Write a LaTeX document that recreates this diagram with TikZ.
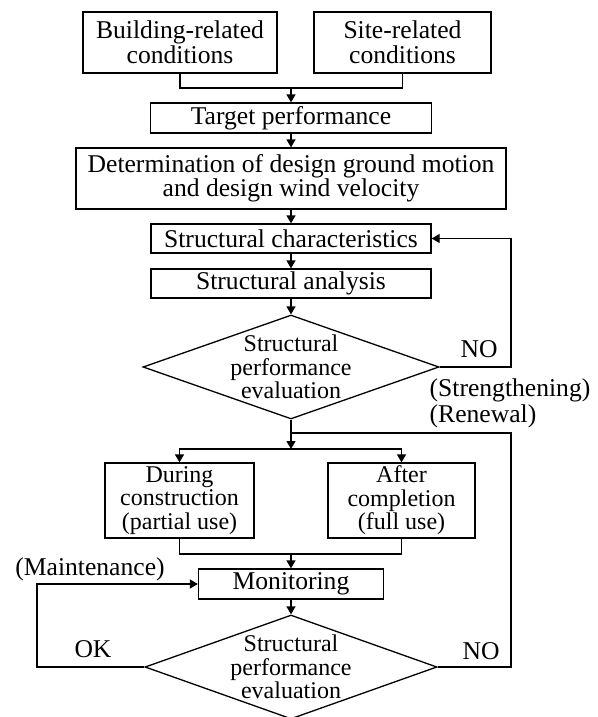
\documentclass[tikz,border=0pt]{standalone}
\usepackage{fontspec}
\setmainfont{Liberation Serif}
\usetikzlibrary{arrows.meta,shapes.geometric}
\begin{document}
\begin{tikzpicture}[x=1pt,y=-1pt,
  line width=1.3pt,
  every node/.style={font=\fontsize{25.6}{25}\selectfont, inner sep=0pt},
  box/.style={draw, rectangle, align=center},
  tight/.style={font=\fontsize{24}{23.5}\selectfont},
  dia/.style={draw, diamond, minimum width=296pt, minimum height=104pt},
  arr/.style={-{Triangle[length=8pt,width=9pt]}}]
\useasboundingbox (0,0) rectangle (597,717);

% boxes
\node[box, minimum width=194pt, minimum height=61pt] (bld) at (180,42.5) {Building-related\\conditions};
\node[box, minimum width=177pt, minimum height=61pt] (site) at (402.5,42.5) {Site-related\\conditions};
\node[box, minimum width=281pt, minimum height=30pt] (tgt) at (291,118) {Target performance};
\node[box, font=\fontsize{25.6}{23}\selectfont, minimum width=430pt, minimum height=61pt] (det) at (291,178.5) {Determination of design ground motion\\and design wind velocity};
\node[box, minimum width=280pt, minimum height=29pt] (chr) at (291,238.5) {Structural characteristics};
\node[box, minimum width=280pt, minimum height=29pt] (ana) at (291,283.5) {Structural analysis};
\node[dia] (d1) at (291,367) {};
\node[tight, align=center] (d1t) at (d1) {Structural\\performance\\evaluation};
\node[box, tight, minimum width=149pt, minimum height=75pt] (dur) at (179.5,500.5) {During\\construction\\(partial use)};
\node[box, tight, minimum width=147pt, minimum height=75pt] (aft) at (401.5,500.5) {After\\completion\\(full use)};
\node[box, minimum width=185pt, minimum height=30pt] (mon) at (291,584) {Monitoring};
\node[dia, minimum width=292pt] (d2) at (291,667) {};
\node[tight, align=center] (d2t) at (d2) {Structural\\performance\\evaluation};

% labels
\node (no1) at (479,349) {NO};
\node[anchor=base west] (stg) at (429,396) {(Strengthening)};
\node[anchor=base west] (ren) at (429,422) {(Renewal)};
\node (no2) at (481,651) {NO};
\node (ok) at (93,649) {OK};
\node (mnt) at (90,569) {(Maintenance)};

% connectors
\coordinate (m1) at (291,88);
\draw (bld.south) |- (m1) -| (site.south);
\draw[arr] (m1) -- (tgt.north);
\draw[arr] (tgt) -- (det);
\draw[arr] (det) -- (chr);
\draw[arr] (chr) -- (ana);
\draw[arr] (ana) -- (d1.north);
\coordinate (r1) at (511,367);
\draw[arr] (d1.east) -- (r1) |- (chr.east);
\coordinate (s) at (291,449);
\draw[arr] (d1.south) -- (s);
\draw[arr] (s) -| (dur.north);
\draw[arr] (s) -| (aft.north);
\coordinate (m2) at (291,554);
\draw (dur.south) |- (m2) -| (aft.south);
\draw[arr] (m2) -- (mon.north);
\draw[arr] (mon.south) -- (d2.north);
\coordinate (l2) at (37,667);
\draw[arr] (d2.west) -- (l2) |- (mon.west);
\coordinate (r2) at (511,667);
\coordinate (rn) at (291,433);
\draw (d2.east) -- (r2) |- (rn);
\end{tikzpicture}
\end{document}
